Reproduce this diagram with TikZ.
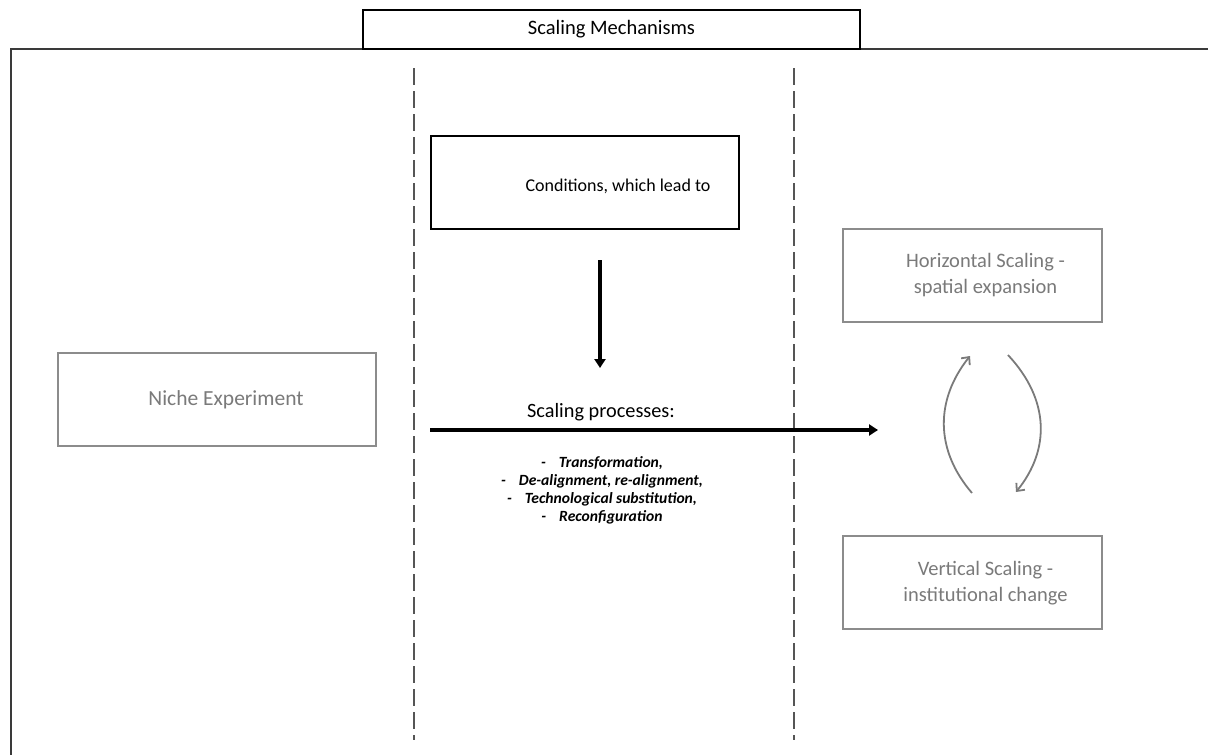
\documentclass[tikz,border=0pt]{standalone}
\usepackage{fontspec}
\setmainfont{Carlito}
\usetikzlibrary{arrows.meta}
\definecolor{txtgray}{HTML}{7A7A7A}
\definecolor{boxgray}{HTML}{8C8C8C}
\definecolor{framegray}{HTML}{3A3A3A}
\definecolor{dashgray}{HTML}{555555}
\begin{document}
\begin{tikzpicture}[x=1pt,y=-1pt,
  blackbox/.style={draw=black,line width=1.4pt,fill=white,inner sep=0pt},
  graybox/.style={draw=boxgray,line width=1.4pt,fill=white,inner sep=0pt},
  graytext/.style={text=txtgray,align=center,font=\fontsize{20.5}{26}\selectfont},
  divider/.style={draw=dashgray,line width=1.5pt,dash pattern=on 17pt off 6pt},
  mainarrow/.style={draw=black,line width=3.2pt,-{Triangle[length=9pt,width=11pt]}},
  cyclearrow/.style={draw=txtgray,line width=1.8pt,-{Straight Barb[length=6pt,width=11pt]}}
]
\useasboundingbox (0,0) rectangle (1208,755);
% outer frame
\draw[framegray,line width=2pt] (1208,49) -- (11,49) -- (11,755);
% dividers
\coordinate (d1t) at (414,68); \coordinate (d1b) at (414,740);
\coordinate (d2t) at (794,68); \coordinate (d2b) at (794,740);
\draw[divider] (d1t) -- (d1b);
\draw[divider] (d2t) -- (d2b);
% title
\node[blackbox,minimum width=497pt,minimum height=39pt,font=\fontsize{20.5}{24}\selectfont] (title) at (611.5,29.5) {Scaling Mechanisms};
% conditions
\node[blackbox,minimum width=308pt,minimum height=93pt] (cond) at (585,182.5) {};
\node[font=\fontsize{18}{22}\selectfont] (condtext) at (618,186) {Conditions, which lead to};
% gray boxes
\node[graybox,minimum width=318pt,minimum height=93pt] (niche) at (217,399.5) {};
\node[graytext,font=\fontsize{21.5}{26}\selectfont] (nichetext) at (226,399.5) {Niche Experiment};
\node[graybox,minimum width=259pt,minimum height=93pt] (hs) at (972.5,275.5) {};
\node[graytext] (hstext) at (985.5,275.5) {Horizontal Scaling -\\spatial expansion};
\node[graybox,minimum width=259pt,minimum height=93pt] (vs) at (972.5,582.5) {};
\node[graytext] (vstext) at (985.5,583.5) {Vertical Scaling -\\institutional change};
% arrows
\coordinate (downs) at (600,260);
\coordinate (downe) at (600,368);
\draw[mainarrow] (downs) -- (downe);
\coordinate (hs0) at (430,430);
\coordinate (he0) at (878,430);
\draw[mainarrow] (hs0) -- (he0);
\node[font=\fontsize{20.3}{24}\selectfont] (proc) at (601,412) {Scaling processes:};
\node[font=\fontsize{15.6}{18}\selectfont\bfseries\itshape,align=center] (list) at (602,490)
 {-\hspace{13pt}Transformation,\\
  -\hspace{13pt}De-alignment, re-alignment,\\
  -\hspace{13pt}Technological substitution,\\
  -\hspace{13pt}Reconfiguration};
% cycle arrows
\coordinate (la) at (972,493); \coordinate (lb) at (970,356);
\coordinate (ra) at (1008,355); \coordinate (rb) at (1016,492);
\draw[cyclearrow] (la) .. controls (935,450) and (935,400) .. (lb);
\draw[cyclearrow] (ra) .. controls (1050,400) and (1050,450) .. (rb);
\end{tikzpicture}
\end{document}
